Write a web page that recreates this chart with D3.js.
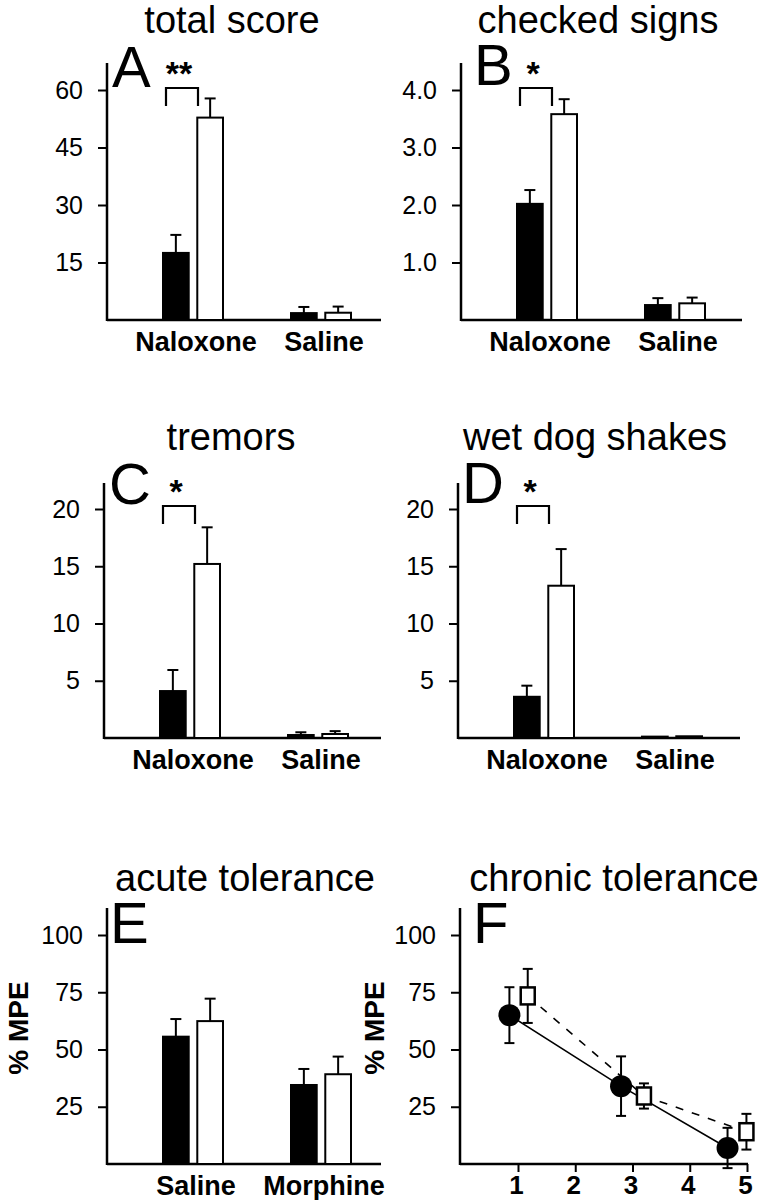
<!DOCTYPE html>
<html><head><meta charset="utf-8">
<script src="https://cdn.jsdelivr.net/npm/d3@7"></script>
<style>
body{margin:0;background:#fff}
svg{display:block}
text{font-family:"Liberation Sans",Arial,Helvetica,sans-serif;fill:#000}
</style>
</head><body><div id="chart"></div>
<script>
// ---------------- DATA ----------------
const withdrawalGroups = ["Naloxone", "Saline"];
const acuteGroups = ["Saline", "Morphine"];
const seriesKeys = ["filled", "open"];

// A: total score
const totalScoreFilled = [17.5, 1.8];
const totalScoreFilledErr = [4.7, 1.6];
const totalScoreOpen = [52.8, 1.9];
const totalScoreOpenErr = [5.0, 1.6];
const totalScoreTicks = [15, 30, 45, 60];

// B: checked signs
const checkedSignsFilled = [2.02, 0.26];
const checkedSignsFilledErr = [0.24, 0.12];
const checkedSignsOpen = [3.58, 0.29];
const checkedSignsOpenErr = [0.26, 0.10];
const checkedSignsTicks = [1, 2, 3, 4];

// C: tremors
const tremorsFilled = [4.1, 0.26];
const tremorsFilledErr = [1.84, 0.24];
const tremorsOpen = [15.2, 0.35];
const tremorsOpenErr = [3.2, 0.25];
const tremorsTicks = [5, 10, 15, 20];

// D: wet dog shakes
const wdsFilled = [3.6, 0.12];
const wdsFilledErr = [0.97, 0.0];
const wdsOpen = [13.3, 0.15];
const wdsOpenErr = [3.2, 0.0];
const wdsTicks = [5, 10, 15, 20];

// E: acute tolerance (% MPE)
const acuteFilled = [55.6, 34.5];
const acuteFilledErr = [7.7, 7.0];
const acuteOpen = [62.4, 39.2];
const acuteOpenErr = [9.8, 7.7];
const mpeTicks = [25, 50, 75, 100];

// F: chronic tolerance (% MPE by day)
const chronicDayTicks = [1, 2, 3, 4, 5];
const chronicFilledDay = [0.85, 2.8, 4.66];
const chronicFilledMPE = [65, 34, 7];
const chronicFilledErr = [12.2, 13, 8.8];
const chronicOpenDay = [1.17, 3.2, 4.99];
const chronicOpenMPE = [73.4, 29.7, 14.1];
const chronicOpenErr = [11.8, 5.5, 7.8];

// ---------------- DRAWING ----------------
const W = 764, H = 1200;
const svg = d3.select("#chart").append("svg").attr("width", W).attr("height", H);

const AXIS_W = 2.5;

function yAxisBlock(g, y, ticks, fmt, axisX, y0, axisTop) {
  const ax = d3.axisLeft(y).tickValues(ticks).tickSize(9).tickPadding(15)
    .tickFormat(fmt || d3.format("d"));
  const ag = g.append("g").attr("transform", `translate(${axisX},0)`).call(ax);
  ag.select(".domain").remove();
  ag.selectAll(".tick line").attr("stroke", "#000").attr("stroke-width", 2);
  ag.selectAll(".tick text").attr("font-size", 25).attr("fill", "#000")
    .style("font-family", '"Liberation Sans",Arial,sans-serif');
  g.append("line").attr("x1", axisX).attr("x2", axisX).attr("y1", axisTop).attr("y2", y0 + 1)
    .attr("stroke", "#000").attr("stroke-width", AXIS_W);
}

function titleAndLetter(g, c) {
  g.append("text").attr("x", c.titleX).attr("y", c.titleY).attr("text-anchor", "middle")
    .attr("font-size", 38).text(c.title);
  g.append("text").attr("x", c.axisX + c.letterDX).attr("y", c.y0 - c.letterDY)
    .attr("font-size", 58).text(c.letter);
}

function barPanel(c) {
  const g = svg.append("g");
  const y = d3.scaleLinear().domain([0, d3.max(c.ticks)]).range([c.y0, c.yTop]);
  const x = d3.scalePoint().domain(c.groups).range([c.axisX + 86, c.axisX + 214]);
  const inner = d3.scaleBand().domain(seriesKeys).range([-30, 30]).paddingInner(0.25);

  yAxisBlock(g, y, c.ticks, c.fmt, c.axisX, c.y0, c.axisTop);
  g.append("line").attr("x1", c.axisX).attr("x2", c.rightX).attr("y1", c.y0).attr("y2", c.y0)
    .attr("stroke", "#000").attr("stroke-width", AXIS_W);

  const rows = [];
  c.groups.forEach((grp, i) => {
    rows.push({grp, key: "filled", v: c.filled[i], e: c.filledErr[i]});
    rows.push({grp, key: "open", v: c.open[i], e: c.openErr[i]});
  });
  const bw = inner.bandwidth();
  rows.forEach(r => {
    const cx = x(r.grp) + inner(r.key) + bw / 2;
    if (r.e > 0) {
      g.append("line").attr("x1", cx).attr("x2", cx).attr("y1", y(r.v)).attr("y2", y(r.v + r.e))
        .attr("stroke", "#000").attr("stroke-width", 2);
      g.append("line").attr("x1", cx - 5.5).attr("x2", cx + 5.5).attr("y1", y(r.v + r.e)).attr("y2", y(r.v + r.e))
        .attr("stroke", "#000").attr("stroke-width", 2);
    }
  });
  g.selectAll("rect.bar").data(rows).join("rect").attr("class", "bar")
    .attr("x", d => x(d.grp) + inner(d.key))
    .attr("width", bw)
    .attr("y", d => y(d.v))
    .attr("height", d => c.y0 - y(d.v))
    .attr("fill", d => d.key === "filled" ? "#000" : "#fff")
    .attr("stroke", "#000").attr("stroke-width", 2);

  g.selectAll("text.cat").data(c.groups).join("text").attr("class", "cat")
    .attr("x", d => x(d) + 3).attr("y", c.y0 + 31).attr("text-anchor", "middle")
    .attr("font-size", 27).attr("font-weight", "bold").text(d => d);

  if (c.stars) {
    const cx = x(c.groups[0]);
    g.append("path")
      .attr("d", `M${cx - 27},${c.y0 - 214} V${c.y0 - 232} H${cx + 5} V${c.y0 - 214}`)
      .attr("fill", "none").attr("stroke", "#000").attr("stroke-width", 2.2);
    g.append("text").attr("x", cx - 14).attr("y", c.y0 - 235).attr("text-anchor", "middle")
      .attr("font-size", 34).attr("font-weight", "bold").text(c.stars);
  }
  if (c.yLabel) {
    g.append("text").attr("transform", `translate(${c.yLabelX},${c.yLabelY}) rotate(-90)`)
      .attr("text-anchor", "middle").attr("font-size", 28).attr("font-weight", "bold").text(c.yLabel);
  }
  titleAndLetter(g, c);
}

const f1 = d3.format(".1f");

barPanel({title: "total score", letter: "A", groups: withdrawalGroups,
  filled: totalScoreFilled, filledErr: totalScoreFilledErr, open: totalScoreOpen, openErr: totalScoreOpenErr,
  ticks: totalScoreTicks, axisX: 107, rightX: 381, y0: 320, yTop: 90, axisTop: 63,
  titleX: 232, titleY: 33, letterDX: 5, letterDY: 233, stars: "**"});

barPanel({title: "checked signs", letter: "B", groups: withdrawalGroups,
  filled: checkedSignsFilled, filledErr: checkedSignsFilledErr, open: checkedSignsOpen, openErr: checkedSignsOpenErr,
  ticks: checkedSignsTicks, fmt: f1, axisX: 461, rightX: 742, y0: 320, yTop: 90, axisTop: 63,
  titleX: 598, titleY: 33, letterDX: 13, letterDY: 235, stars: "*"});

barPanel({title: "tremors", letter: "C", groups: withdrawalGroups,
  filled: tremorsFilled, filledErr: tremorsFilledErr, open: tremorsOpen, openErr: tremorsOpenErr,
  ticks: tremorsTicks, axisX: 104, rightX: 381, y0: 738, yTop: 509, axisTop: 483,
  titleX: 231, titleY: 450, letterDX: 5, letterDY: 234, stars: "*"});

barPanel({title: "wet dog shakes", letter: "D", groups: withdrawalGroups,
  filled: wdsFilled, filledErr: wdsFilledErr, open: wdsOpen, openErr: wdsOpenErr,
  ticks: wdsTicks, axisX: 458, rightX: 740, y0: 738, yTop: 509, axisTop: 483,
  titleX: 595, titleY: 450, letterDX: 4, letterDY: 235, stars: "*"});

barPanel({title: "acute tolerance", letter: "E", groups: acuteGroups,
  filled: acuteFilled, filledErr: acuteFilledErr, open: acuteOpen, openErr: acuteOpenErr,
  ticks: mpeTicks, axisX: 107, rightX: 381, y0: 1164, yTop: 935, axisTop: 908,
  titleX: 245, titleY: 891, letterDX: 3, letterDY: 221,
  yLabel: "% MPE", yLabelX: 28, yLabelY: 1028});

// Panel F: line chart
(function () {
  const c = {title: "chronic tolerance", letter: "F", axisX: 460, rightX: 747, y0: 1164, yTop: 935, axisTop: 908,
    titleX: 614, titleY: 891, letterDX: 13, letterDY: 221};
  const g = svg.append("g");
  const y = d3.scaleLinear().domain([0, d3.max(mpeTicks)]).range([c.y0, c.yTop]);
  const x = d3.scaleLinear().domain([1, 5]).range([c.axisX + 58, c.axisX + 287]);
  yAxisBlock(g, y, mpeTicks, null, c.axisX, c.y0, c.axisTop);

  const xa = d3.axisBottom(x).tickValues(chronicDayTicks).tickSize(8).tickPadding(4).tickFormat(d3.format("d"));
  const xg = g.append("g").attr("transform", `translate(0,${c.y0})`).call(xa);
  xg.select(".domain").remove();
  xg.selectAll(".tick line").attr("stroke", "#000").attr("stroke-width", 2);
  xg.selectAll(".tick text").attr("font-size", 26).attr("font-weight", "bold").attr("fill", "#000")
    .attr("dx", -2).style("font-family", '"Liberation Sans",Arial,sans-serif');
  g.append("line").attr("x1", c.axisX).attr("x2", x(5) + 1).attr("y1", c.y0).attr("y2", c.y0)
    .attr("stroke", "#000").attr("stroke-width", AXIS_W);

  const filled = chronicFilledDay.map((d, i) => ({d, v: chronicFilledMPE[i], e: chronicFilledErr[i]}));
  const open = chronicOpenDay.map((d, i) => ({d, v: chronicOpenMPE[i], e: chronicOpenErr[i]}));
  const line = d3.line().x(p => x(p.d)).y(p => y(p.v));

  g.append("path").attr("d", line(filled)).attr("fill", "none").attr("stroke", "#000").attr("stroke-width", 1.6);
  g.append("path").attr("d", line(open)).attr("fill", "none").attr("stroke", "#000").attr("stroke-width", 1.6)
    .attr("stroke-dasharray", "8,9");

  function errBars(data) {
    data.forEach(p => {
      const cx = x(p.d);
      g.append("line").attr("x1", cx).attr("x2", cx).attr("y1", y(p.v - p.e)).attr("y2", y(p.v + p.e))
        .attr("stroke", "#000").attr("stroke-width", 2);
      [p.v - p.e, p.v + p.e].forEach(v => {
        g.append("line").attr("x1", cx - 5).attr("x2", cx + 5).attr("y1", y(v)).attr("y2", y(v))
          .attr("stroke", "#000").attr("stroke-width", 2);
      });
    });
  }
  errBars(filled);
  errBars(open);

  g.selectAll("circle.pt").data(filled).join("circle").attr("class", "pt")
    .attr("cx", p => x(p.d)).attr("cy", p => y(p.v)).attr("r", 11).attr("fill", "#000");
  g.selectAll("rect.pt").data(open).join("rect").attr("class", "pt")
    .attr("x", p => x(p.d) - 7).attr("y", p => y(p.v) - 8.5).attr("width", 14).attr("height", 17)
    .attr("fill", "#fff").attr("stroke", "#000").attr("stroke-width", 2.5);

  g.append("text").attr("transform", `translate(384,1028) rotate(-90)`)
    .attr("text-anchor", "middle").attr("font-size", 28).attr("font-weight", "bold").text("% MPE");
  titleAndLetter(g, c);
})();
</script>
</body></html>
